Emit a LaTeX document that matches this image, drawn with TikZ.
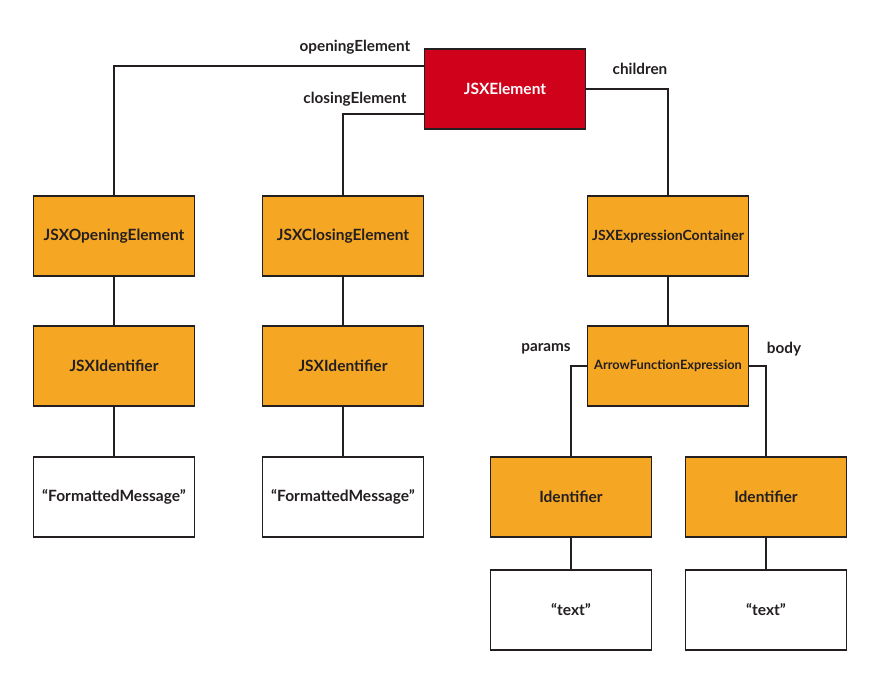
\documentclass[tikz,border=0pt]{standalone}
\usepackage{fontspec}
\setmainfont{Lato}
\definecolor{jsxred}{HTML}{D0021B}
\definecolor{jsxorange}{HTML}{F5A623}
\definecolor{jsxline}{HTML}{231F20}
\begin{document}
\begin{tikzpicture}[x=1pt,y=-1pt,
		box/.style={draw=jsxline,line width=1.3pt,minimum width=161pt,minimum height=80pt,inner sep=0pt,font=\fontsize{15.5}{18}\selectfont\bfseries},
		redbox/.style={box,fill=jsxred,text=white},
		orangebox/.style={box,fill=jsxorange,text=jsxline},
		whitebox/.style={box,fill=white,text=jsxline},
		lbl/.style={text=jsxline,font=\fontsize{15.3}{18}\selectfont\bfseries},
		edge/.style={draw=jsxline,line width=1.3pt}]
			\useasboundingbox (0,0) rectangle (880,684);
			
			%root
			\node (jsxel) at (505, 89) [redbox]{JSXElement};
			
			%left branches
			\node (opening) at (114, 236) [orangebox]{JSXOpeningElement};
			\node (closing) at (343, 236) [orangebox]{JSXClosingElement};
			\node (openid) at (114, 366) [orangebox]{JSXIdentifier};
			\node (closeid) at (343, 366) [orangebox]{JSXIdentifier};
			\node (openstr) at (114, 497) [whitebox]{``FormattedMessage''};
			\node (closestr) at (343, 497) [whitebox]{``FormattedMessage''};
			
			%right branch
			\node (container) at (668, 236) [orangebox,font=\fontsize{14}{16}\selectfont\bfseries]{JSXExpressionContainer};
			\node (arrowfn) at (668, 366) [orangebox,font=\fontsize{12.8}{15}\selectfont\bfseries]{ArrowFunctionExpression};
			\node (paramid) at (571, 497) [orangebox]{Identifier};
			\node (bodyid) at (766, 497) [orangebox]{Identifier};
			\node (paramstr) at (571, 610) [whitebox]{``text''};
			\node (bodystr) at (766, 610) [whitebox]{``text''};
			
			%connectors
			\draw[edge] ([yshift=23pt]jsxel.west) -| (opening.north);
			\draw[edge] ([yshift=-25pt]jsxel.west) -| (closing.north);
			\draw[edge] (jsxel.east) -| (container.north);
			\draw[edge] (opening) -- (openid);
			\draw[edge] (openid) -- (openstr);
			\draw[edge] (closing) -- (closeid);
			\draw[edge] (closeid) -- (closestr);
			\draw[edge] (container) -- (arrowfn);
			\draw[edge] (arrowfn.west) -| (paramid.north);
			\draw[edge] (arrowfn.east) -| (bodyid.north);
			\draw[edge] (paramid) -- (paramstr);
			\draw[edge] (bodyid) -- (bodystr);
			
			%edge labels
			\node (lopen) at (355, 47) [lbl]{openingElement};
			\node (lclose) at (355, 99) [lbl]{closingElement};
			\node (lchild) at (640, 69) [lbl]{children};
			\node (lparams) at (546, 349) [lbl]{params};
			\node (lbody) at (784, 349) [lbl]{body};
		\end{tikzpicture}
\end{document}
